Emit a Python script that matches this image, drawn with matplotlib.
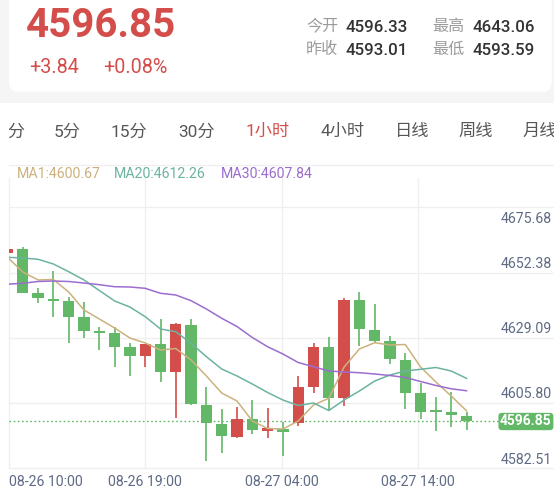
import numpy as np
import matplotlib
matplotlib.use("Agg")
import matplotlib.pyplot as plt
from matplotlib.patches import FancyBboxPatch, Rectangle
from matplotlib.transforms import offset_copy

# ---- header data ----
last_price = "4596.85"
change = "+3.84"
change_pct = "+0.08%"
stat_names = ["今开", "最高", "昨收", "最低"]
stat_values = ["4596.33", "4643.06", "4593.01", "4593.59"]
periods = ["1分", "5分", "15分", "30分", "1小时", "4小时", "日线", "周线", "月线"]
active_period = "1小时"

# ---- 1h candles ----
times = ["08-26 10:00", "08-26 11:00", "08-26 12:00", "08-26 13:00", "08-26 14:00",
         "08-26 15:00", "08-26 16:00", "08-26 17:00", "08-26 18:00", "08-26 19:00",
         "08-26 20:00", "08-26 21:00", "08-26 22:00", "08-26 23:00", "08-27 00:00",
         "08-27 01:00", "08-27 02:00", "08-27 03:00", "08-27 04:00", "08-27 06:00",
         "08-27 07:00", "08-27 08:00", "08-27 09:00", "08-27 10:00", "08-27 11:00",
         "08-27 12:00", "08-27 13:00", "08-27 14:00", "08-27 15:00", "08-27 16:00",
         "08-27 17:00"]
opens = [4657.14, 4658.46, 4642.64, 4640.71, 4639.81, 4634.10, 4629.17, 4628.35, 4623.35, 4620.24,
         4624.53, 4614.64, 4631.49, 4602.92, 4595.96, 4591.49, 4597.67, 4593.56, 4594.17, 4596.33,
         4609.28, 4623.56, 4605.24, 4640.24, 4629.53, 4625.67, 4618.81, 4606.92, 4600.96, 4600.14,
         4598.81]
highs = [4658.46, 4659.06, 4644.42, 4650.60, 4641.42, 4639.35, 4630.71, 4630.71, 4624.78, 4624.70,
         4633.35, 4631.96, 4633.53, 4609.24, 4601.39, 4602.14, 4604.64, 4601.56, 4596.78, 4613.21,
         4624.99, 4627.14, 4640.85, 4643.06, 4638.71, 4627.56, 4621.42, 4610.71, 4605.71, 4607.49,
         4600.35]
lows = [4657.14, 4642.85, 4639.06, 4634.06, 4624.78, 4626.56, 4622.39, 4616.21, 4613.10, 4616.21,
        4610.89, 4597.99, 4602.90, 4582.64, 4585.60, 4590.78, 4592.49, 4590.78, 4584.53, 4595.35,
        4607.14, 4600.71, 4602.39, 4623.81, 4624.78, 4617.39, 4601.21, 4597.64, 4593.59, 4594.78,
        4593.81]
closes = [4658.46, 4642.85, 4640.85, 4639.99, 4634.28, 4629.17, 4628.46, 4623.35, 4620.24, 4624.53,
          4614.64, 4631.56, 4603.03, 4596.21, 4591.67, 4597.67, 4593.92, 4594.35, 4593.01, 4609.28,
          4623.56, 4605.24, 4640.24, 4629.78, 4625.60, 4619.06, 4607.14, 4600.35, 4600.35, 4599.28,
          4596.85]

ma1 = [4655.49, 4650.24, 4647.39, 4647.56, 4643.10, 4636.67, 4633.46, 4630.24, 4626.67, 4624.89,
       4622.39, 4622.92, 4618.81, 4613.10, 4607.03, 4604.17, 4597.03, 4594.35, 4594.17, 4597.03,
       4602.74, 4605.14, 4616.31, 4622.74, 4624.99, 4624.17, 4624.35, 4616.31, 4610.96, 4605.96,
       4600.67]
ma20 = [4655.49, 4655.24, 4654.78, 4653.10, 4650.35, 4647.39, 4643.64, 4639.89, 4637.74, 4634.28,
        4629.89, 4628.92, 4624.78, 4619.99, 4615.60, 4613.10, 4610.24, 4607.21, 4604.53, 4602.56,
        4603.46, 4600.78, 4604.53, 4607.74, 4611.31, 4613.46, 4614.89, 4615.49, 4616.14, 4614.89,
        4612.26]
ma30 = [4645.89, 4646.21, 4646.85, 4647.03, 4646.85, 4646.31, 4645.71, 4644.99, 4644.89, 4644.42,
        4642.64, 4642.03, 4639.99, 4637.03, 4633.71, 4630.78, 4626.85, 4623.56, 4620.96, 4617.92,
        4616.42, 4614.89, 4614.53, 4614.28, 4613.81, 4613.28, 4612.56, 4611.14, 4609.71, 4608.53,
        4607.84]
ma_names = ["MA1", "MA20", "MA30"]
ma_last = ["4600.67", "4612.26", "4607.84"]

price_levels = [4675.68, 4652.38, 4629.09, 4605.80, 4582.51]
time_label_idx = [0, 9, 18, 27]

RED = "#d34e4b"
GREEN = "#62b866"
MA_COLORS = ["#cbb27d", "#6cb3a2", "#9b6dcf"]
AXIS_TXT = "#5f6b85"
GRID = "#efefef"
NUM = ["Roboto", "Noto Sans CJK SC", "DejaVu Sans"]
CJK = ["Noto Sans CJK SC", "DejaVu Sans"]

W, H = 554, 495
fig = plt.figure(figsize=(W / 100, H / 100), dpi=100)
fig.patch.set_facecolor("white")

# background layer in pixel coords
bg = fig.add_axes([0, 0, 1, 1])
bg.set_xlim(0, W)
bg.set_ylim(H, 0)
bg.axis("off")
bg.add_patch(Rectangle((0, 0), W, 103, color="#f5f5f5", lw=0))
bg.add_patch(FancyBboxPatch((9, -20), 542.7, 111.7, boxstyle="round,pad=0,rounding_size=9",
                            fc="white", ec="none"))

bg.text(26, 37.3, last_price, color=RED, fontsize=29, fontweight="bold", family=NUM, va="baseline")
bg.text(29, 72.7, change, color=RED, fontsize=14.2, family=NUM, va="baseline")
bg.text(103, 72.7, change_pct, color=RED, fontsize=14.2, family=NUM, va="baseline")

stat_xy = [(306, 26.2), (432.3, 26.2), (306, 49.5), (432.3, 49.5)]
for name, val, (sx, sy) in zip(stat_names, stat_values, stat_xy):
    bg.text(sx, sy, name, color="#9b9b9b", fontsize=11.6, family=CJK, va="center")
    bg.text(sx + 40, sy + 5.6, val, color="#333333", fontsize=12.2, fontweight="medium",
            family=NUM, va="baseline")

# tab row is a scrolled strip, clipped at its left padding
tabs = fig.add_axes([9 / W, 0, (W - 9) / W, 1])
tabs.set_xlim(9, W)
tabs.set_ylim(H, 0)
tabs.axis("off")
tabs.patch.set_alpha(0)
tab_x = [25.5, 67, 129, 196.5, 267.8, 342.5, 412, 475.5, 522.5]
for i, (p, tx) in enumerate(zip(periods, tab_x)):
    ha = "right" if i == 0 else ("left" if i == len(periods) - 1 else "center")
    col = RED if p == active_period else "#575757"
    tabs.text(tx, 131.7, p, color=col, fontsize=12.4, family=NUM, ha=ha, va="center", clip_on=True)

# MA legend row
leg_x = [16.7, 114.3, 221]
for name, val, col, lx in zip(ma_names, ma_last, MA_COLORS, leg_x):
    bg.text(lx, 178.3, "{}:{}".format(name, val), color=col, fontsize=10.2, family=NUM, va="baseline")

# ---- chart ----
left, right, top, bottom = 9, 554, 165, 468
ax = fig.add_axes([left / W, 1 - bottom / H, (right - left) / W, (bottom - top) / H])
ax.patch.set_alpha(0)
for s in ax.spines.values():
    s.set_visible(False)
ax.set_xticks([])
ax.set_yticks([])

x0, step = 7.5, 15.3
ax.set_xlim((left - x0) / step, (right - x0) / step)
cur = closes[-1]
ppu, y_anchor = 2.8, 421.5
ax.set_ylim(cur - (bottom - y_anchor) / ppu, cur + (y_anchor - top) / ppu)

# grid
grid_tr = offset_copy(ax.get_yaxis_transform(), fig=fig, x=0, y=-6.5, units="dots")
for v in price_levels:
    ax.plot([0, 1], [v, v], transform=grid_tr, color=GRID, lw=0.9, zorder=0, clip_on=False)
ax.plot([0, 1], [1, 1], transform=ax.transAxes, color=GRID, lw=0.9, zorder=0, clip_on=False)
for f in [0, 0.25, 0.5, 0.75]:
    ax.plot([f, f], [0, 0.957], transform=ax.transAxes, color=GRID, lw=0.9, zorder=0, clip_on=False)

# candles
idx = np.arange(len(opens))
o = np.array(opens)
h = np.array(highs)
l = np.array(lows)
c = np.array(closes)
cols = np.where(c >= o, RED, GREEN)
ax.vlines(idx, l, h, colors=cols, lw=1.2, zorder=2)
ax.bar(idx, np.maximum(np.abs(c - o), 0.55), bottom=np.minimum(o, c), width=0.74,
       color=cols, zorder=3)

for series, col in zip([ma1, ma20, ma30], MA_COLORS):
    ax.plot(idx, series, color=col, lw=1.1, zorder=4)

# current price line + tag
ax.plot([0, 0.9], [cur, cur], transform=ax.get_yaxis_transform(), color=GREEN, lw=1,
        ls=(0, (1.2, 1.8)), zorder=1)
ax.text(0.9958, cur, last_price, transform=ax.get_yaxis_transform(), ha="right", va="center",
        color="white", fontsize=10, fontweight="bold", family=NUM, zorder=6,
        bbox=dict(boxstyle="round,pad=0.12,rounding_size=0.25", fc=GREEN, ec="none"))

# price labels (text sits just above its grid line, top one is pinned inside)
for i, v in enumerate(price_levels):
    dy = -18 if i == 0 else 2
    tr = offset_copy(ax.get_yaxis_transform(), fig=fig, x=0, y=dy, units="dots")
    ax.text(0.9958, v, "{:.2f}".format(v), transform=tr, ha="right", va="center",
            color=AXIS_TXT, fontsize=10.2, family=NUM, zorder=5)

# time labels
for k, ti in enumerate(time_label_idx):
    f = k * 0.25
    px = left + f * (right - left)
    bg.text(px + (0.3 if k == 0 else 0), 481.5, times[ti], color=AXIS_TXT, fontsize=10.2,
            family=NUM, ha="left" if k == 0 else "center", va="center")

fig.savefig("out.png", dpi=100)
